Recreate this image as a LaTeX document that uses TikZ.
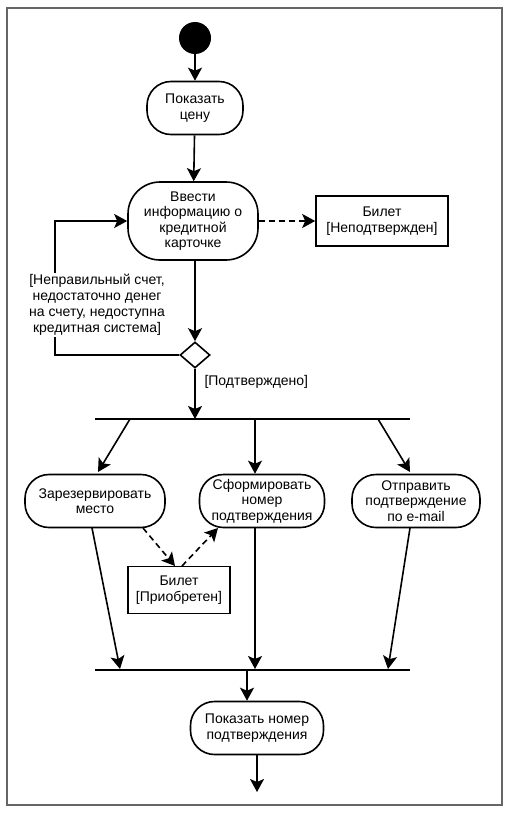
\documentclass[tikz,border=0pt]{standalone}
\usepackage{fontspec}
\setmainfont{Liberation Sans}
\usetikzlibrary{shapes.geometric,arrows.meta,calc}
\begin{document}
\begin{tikzpicture}[x=1pt,y=-1pt,
  font=\fontsize{14}{15.5}\selectfont,
  act/.style={draw, line width=1.6pt, rounded corners=24pt, align=center, inner sep=1pt},
  obj/.style={draw, line width=1.6pt, align=center, inner sep=1pt},
  flow/.style={line width=1.6pt, -{Stealth[length=13pt,width=14pt,inset=3pt]}},
  dflow/.style={flow, dash pattern=on 6pt off 4pt},
  bar/.style={line width=1.8pt}
]
\useasboundingbox (0,0) rectangle (510,816);
\draw[line width=1.5pt, black!60] (7,8) rectangle (502,805);

\node[circle, fill=black, minimum size=32pt, inner sep=0] (start) at (195,38) {};
\node[act, minimum width=96pt, minimum height=53pt] (show) at (195,108) {Показать\\цену};
\node[act, minimum width=130pt, minimum height=78pt, rounded corners=32pt] (enter) at (193,221) {Ввести\\информацию о\\кредитной\\карточке};
\node[obj, minimum width=132pt, minimum height=50pt] (tick1) at (382,221) {Билет\\{[}Неподтвержден{]}};
\node[diamond, draw, line width=1.6pt, minimum width=30pt, minimum height=26pt, inner sep=0] (dia) at (195,355) {};

\coordinate (forkL) at (95,419); \coordinate (forkR) at (410,419);
\coordinate (f1) at (130,419); \coordinate (f2) at (255,419); \coordinate (f3) at (378,419);
\coordinate (fm) at (195,419);

\node[act, minimum width=140pt, minimum height=53pt] (res) at (95,501) {Зарезервировать\\место};
\node[act, minimum width=125pt, minimum height=53pt] (form) at (262,501) {Сформировать\\номер\\подтверждения};
\node[act, minimum width=128pt, minimum height=53pt] (send) at (416,501) {Отправить\\подтверждение\\по e-mail};
\node[obj, minimum width=102pt, minimum height=47pt] (tick2) at (179,590) {Билет\\{[}Приобретен{]}};

\coordinate (joinL) at (95,670); \coordinate (joinR) at (410,670);
\coordinate (j1) at (120,669); \coordinate (j2) at (255,669); \coordinate (j3) at (388,669);
\coordinate (jm) at (247,670);
\node[act, minimum width=133pt, minimum height=53pt] (showno) at (257,728) {Показать номер\\подтверждения};
\coordinate (fin) at (257,792);

\coordinate (r1) at (143,528); \coordinate (t1) at (175,566);
\coordinate (t2) at (182,566); \coordinate (s1) at (218,528);
\coordinate (r2) at (92,528); \coordinate (s3) at (410,528);
\coordinate (d1) at (98,472); \coordinate (d3) at (410,472);

\draw[flow] (start) -- (show);
\draw[flow] (show) -- (enter);
\draw[dflow] (enter) -- (tick1);
\draw[flow] (enter.south -| dia) -- (dia.north);
\draw[flow] (dia.west) -- (55,355) -- (55,221) -- (enter.west);
\node[align=center, fill=white, inner sep=1pt, font=\fontsize{14}{16}\selectfont] (guard) at (97,305) {{[}Неправильный счет,\\недостаточно денег\\на счету, недоступна\\кредитная система{]}};
\node[anchor=west] (ok) at (201,382) {{[}Подтверждено{]}};
\draw[flow] (dia.south) -- (fm);
\draw[bar] (forkL) -- (forkR);
\draw[flow] (f1) -- (d1);
\draw[flow] (f2) -- (form.north -| f2);
\draw[flow] (f3) -- (d3);
\draw[dflow] (r1) -- (t1);
\draw[dflow] (t2) -- (s1);
\draw[flow] (r2) -- (j1);
\draw[flow] (form.south -| j2) -- (j2);
\draw[flow] (s3) -- (j3);
\draw[bar] (joinL) -- (joinR);
\draw[flow] (jm) -- (jm |- showno.north);
\draw[flow] (showno) -- (fin);
\end{tikzpicture}
\end{document}
